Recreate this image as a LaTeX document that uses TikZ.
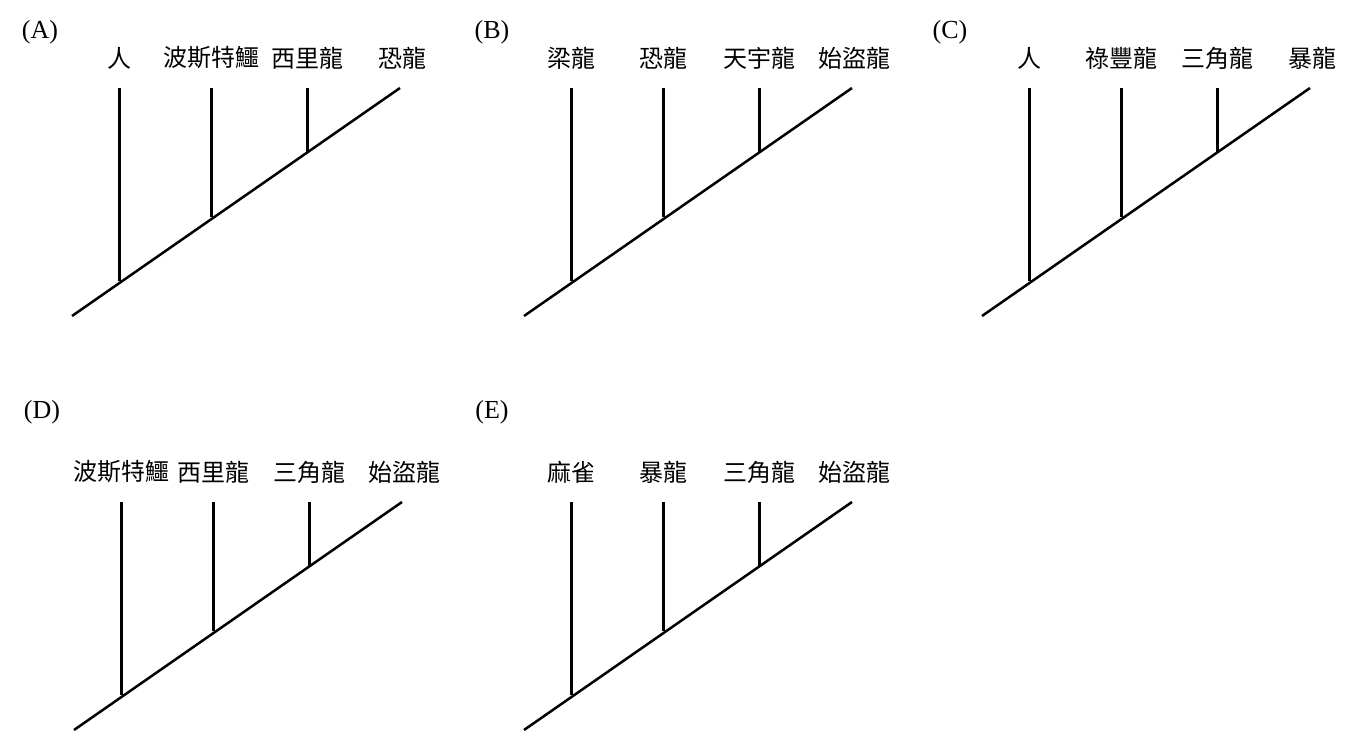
\documentclass[tikz,border=0pt]{standalone}
\usepackage{fontspec}
\setmainfont{Liberation Serif}
\newfontfamily\cjk{Noto Sans CJK TC}
\tikzset{lab/.style={font=\fontsize{24}{26}\selectfont\cjk,inner sep=0pt},
  tag/.style={font=\fontsize{26}{28}\selectfont,inner sep=0pt},
  br/.style={line width=3pt}, dg/.style={line width=2.5pt}}
\newcommand\mytree[9]{%
 \begin{scope}[shift={(#2,#3)}]
  \node[tag] (#1t) at (-32,#9) {#8};
  \coordinate (#1s) at (0,0);
  \coordinate (#1e) at (328,228);
  \coordinate (#1a) at (47,35);
  \coordinate (#1b) at (139,99);
  \coordinate (#1c) at (235,163);
  \coordinate (#1at) at (47,228);
  \coordinate (#1bt) at (139,228);
  \coordinate (#1ct) at (235,228);
  \node[lab] (#1l1) at (47,258) {#4};
  \node[lab] (#1l2) at (139,258) {#5};
  \node[lab] (#1l3) at (235,258) {#6};
  \node[lab] (#1l4) at (330,258) {#7};
  \draw[dg] (#1s) -- (#1e);
  \draw[br] (#1a) -- (#1at);
  \draw[br] (#1b) -- (#1bt);
  \draw[br] (#1c) -- (#1ct);
 \end{scope}}
\begin{document}
\begin{tikzpicture}[x=1pt,y=1pt]
\useasboundingbox (0,0) rectangle (1350,752);
\mytree{A}{72}{436}{人}{波斯特鱷}{西里龍}{恐龍}{(A)}{284}
\mytree{B}{524}{436}{梁龍}{恐龍}{天宇龍}{始盜龍}{(B)}{284}
\mytree{C}{982}{436}{人}{祿豐龍}{三角龍}{暴龍}{(C)}{284}
\mytree{D}{74}{22}{波斯特鱷}{西里龍}{三角龍}{始盜龍}{(D)}{318}
\mytree{E}{524}{22}{麻雀}{暴龍}{三角龍}{始盜龍}{(E)}{318}
\end{tikzpicture}
\end{document}
